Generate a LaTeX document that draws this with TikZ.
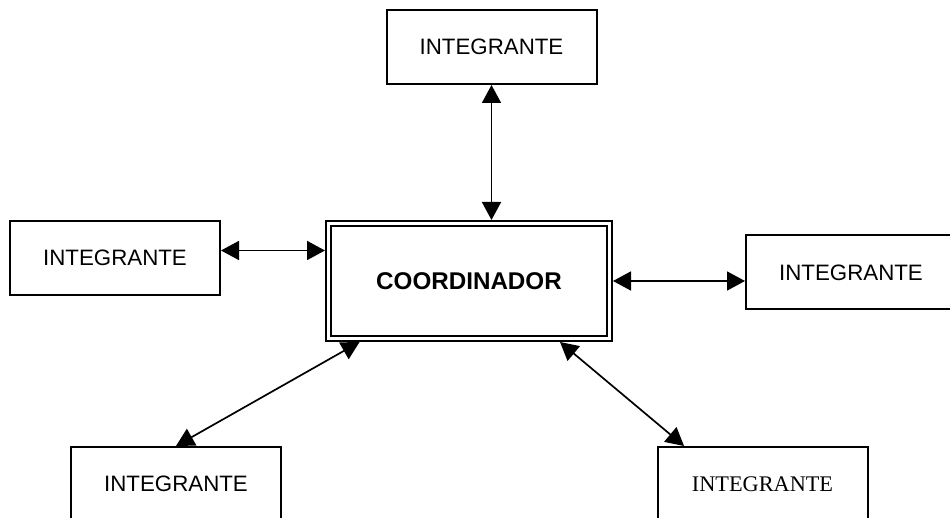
\documentclass[tikz,border=0pt]{standalone}
\usepackage{fontspec}
\setmainfont{Liberation Sans}
\newfontfamily\timesfont{Liberation Serif}
\usetikzlibrary{arrows.meta,positioning,calc}
\tikzstyle{member} = [rectangle, minimum width=105pt, minimum height=37pt, inner sep=0pt, draw=black, line width=1pt, font=\fontsize{11.15}{13}\selectfont]
\tikzstyle{leader} = [rectangle, minimum width=140.5pt, minimum height=57.5pt, inner sep=0pt, draw=black, line width=1pt, double, double distance=1.5pt, outer sep=1.75pt, font=\fontsize{12.1}{14}\selectfont\bfseries]
\tikzstyle{arrow} = [line width=0.85pt, {Triangle[width=9.5pt,length=9pt]}-{Triangle[width=9.5pt,length=9pt]}]

\begin{document}
\begin{tikzpicture}[x=0.5pt, y=-0.5pt]
\useasboundingbox (0,0) rectangle (950,518);
\node (C) [leader] at (469,281) {COORDINADOR};
\node (I1) [member] at (491.5,47) {INTEGRANTE};
\node (I2) [member] at (115,258) {INTEGRANTE};
\node (I3) [member] at (851,272.5) {INTEGRANTE};
\node (I4) [member] at (176,484) {INTEGRANTE};
\node (I5) [member, font=\fontsize{11.15}{13}\timesfont] at (762.5,484) {INTEGRANTE};
\draw [arrow] (I1.south) -- (I1.south |- C.north);
\draw [arrow] (I2.east |- {$(C.north west)!0.25!(C.south west)$}) -- ($(C.north west)!0.25!(C.south west)$);
\draw [arrow] (C.east) -- (C.east -| I3.west);
\draw [arrow] (I4.north) -- ($(C.south west)!0.12!(C.south east)$);
\draw [arrow] ($(C.south west)!0.816!(C.south east)$) -- ($(I5.north west)!0.13!(I5.north east)$);
\end{tikzpicture}
\end{document}
